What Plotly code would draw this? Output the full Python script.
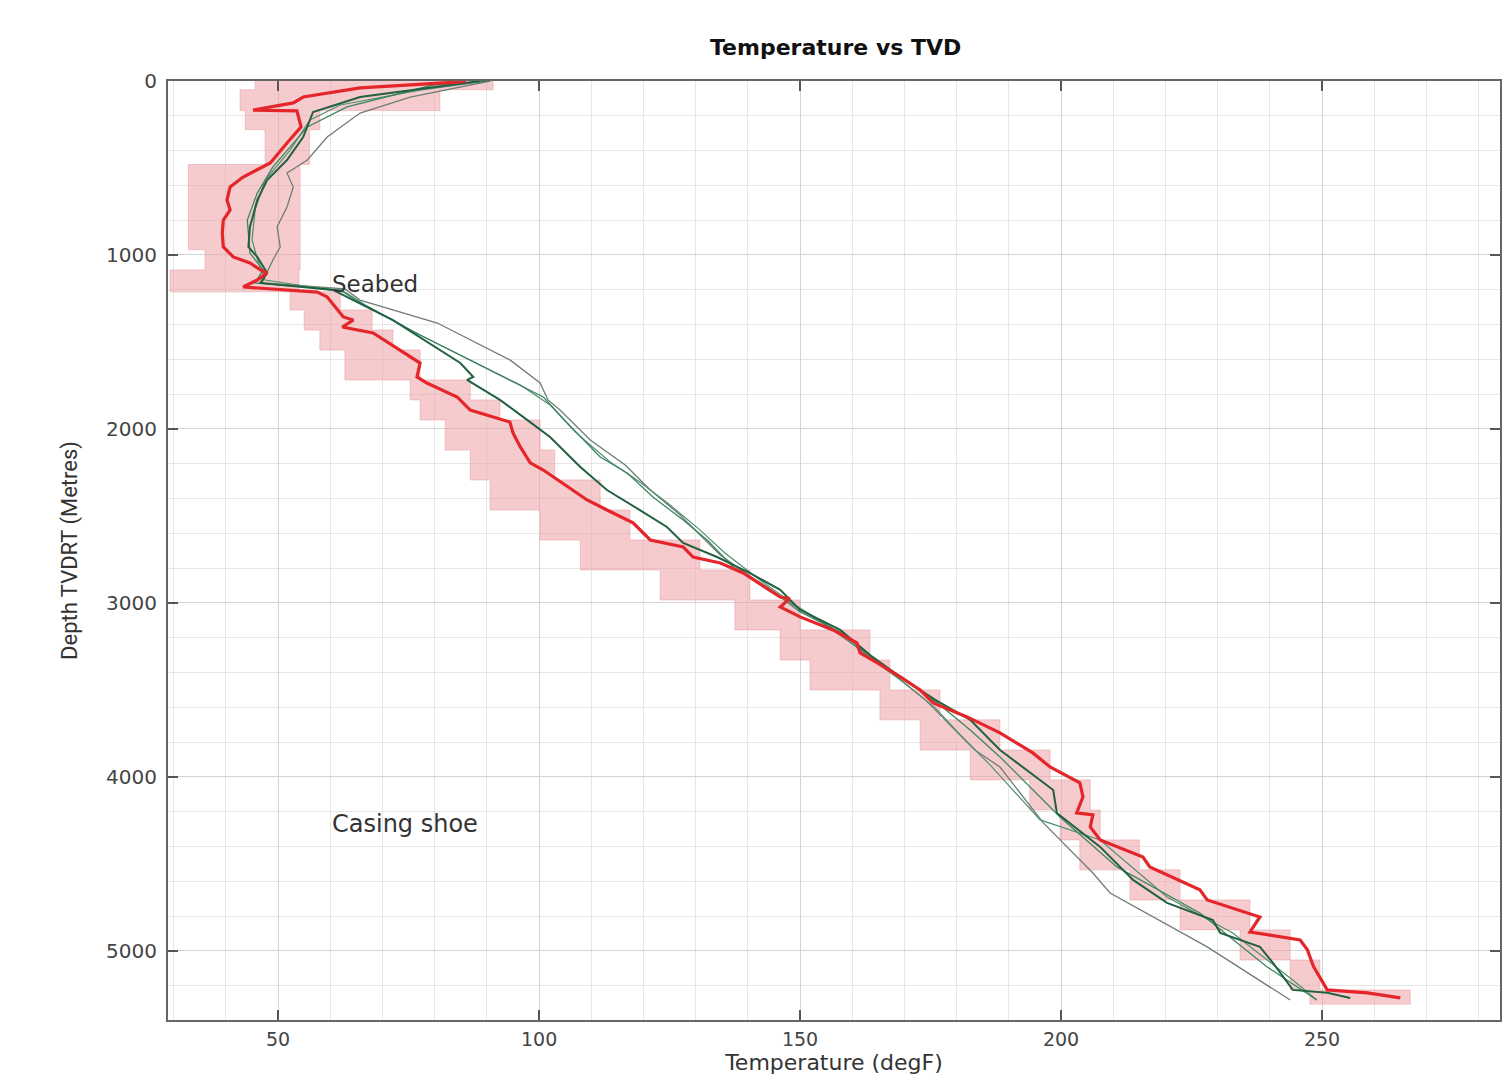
import plotly.graph_objects as go

# ---------------- data ----------------
red_temp = [86, 84.3, 65.7, 54.8, 52.9, 45.2, 53.6, 54.4, 51.7, 48.5, 43.3, 40.8, 40.2, 40.8, 39.5, 39.3, 39.5,
            41.4, 44.6, 46.6, 47.9, 46.0, 43.3, 57.5, 59.4, 62.5, 64.4, 62.3, 68.2, 73.4, 77.2, 76.6, 78.5,
            84.3, 86.8, 94.4, 95.0, 96.4, 98.3, 100.8, 105.4, 109.2, 113.0, 118.0, 121.3, 127.6, 129.5, 134.7,
            139.1, 146.2, 148.0, 146.2, 150.0, 156.3, 160.9, 161.5, 164.8, 169.2, 173.0, 175.5, 182.0, 188.3,
            194.6, 197.9, 203.6, 204.2, 203.0, 206.1, 205.6, 207.5, 215.7, 217.0, 226.6, 228.0, 238.1, 236.2,
            245.8, 247.2, 248.4, 251.0, 258.7, 265.0]
red_depth = [0, 6, 40, 92, 126, 167, 172, 264, 356, 471, 552, 609, 684, 741, 799, 874, 954,
             1011, 1046, 1086, 1103, 1144, 1184, 1213, 1241, 1356, 1374, 1414, 1448, 1546, 1621, 1701, 1736,
             1816, 1891, 1960, 2023, 2103, 2195, 2236, 2333, 2408, 2466, 2540, 2638, 2678, 2736, 2770,
             2828, 2966, 2975, 3023, 3080, 3155, 3230, 3287, 3345, 3425, 3500, 3575, 3655, 3747,
             3862, 3943, 4034, 4115, 4207, 4218, 4287, 4362, 4460, 4517, 4649, 4707, 4805, 4891,
             4937, 4994, 5092, 5224, 5241, 5270]

band_depth = [0, 50, 170, 280, 480, 970, 1086, 1212, 1316, 1431, 1546, 1718, 1833, 1948, 2121, 2293, 2466,
              2638, 2810, 2983, 3155, 3328, 3500, 3672, 3845, 4017, 4190, 4362, 4534, 4707, 4879, 5052,
              5224, 5310]
band_low = [45.6, 42.7, 43.7, 47.5, 32.8, 36.0, 29.3, 52.3, 55.0, 58.0, 62.8, 75.3, 77.2, 82.0, 86.8, 90.6,
            100.2, 107.9, 123.2, 137.5, 146.2, 151.9, 165.3, 173.0, 182.6, 194.0, 199.8, 203.6, 213.2,
            222.8, 234.3, 243.9, 247.7, 247.7]
band_high = [91.2, 81.0, 58.0, 56.0, 54.2, 54.2, 54.0, 61.9, 68.0, 72.0, 77.2, 86.8, 92.5, 100.2, 103.0,
             111.7, 117.4, 130.8, 140.4, 150.0, 163.4, 167.2, 176.8, 188.3, 197.9, 205.6, 207.5, 215.0,
             222.8, 236.2, 243.9, 249.6, 266.9, 266.9]

g1_temp = [88.7, 65.7, 56.7, 54.8, 51.7, 47.9, 46.0, 44.6, 44.3, 46.0, 47.9, 46.6, 60.5, 63.2, 72.0, 84.9,
           87.4, 86.2, 92.5, 97.7, 102.1, 107.9, 113.0, 119.3, 124.5, 127.6, 134.1, 140.4, 146.2, 150.0,
           157.7, 163.4, 169.2, 175.9, 182.6, 188.3, 198.5, 199.2, 207.5, 213.8, 220.3, 229.1, 230.5,
           238.1, 240.6, 244.4, 251.0, 255.4]
g1_depth = [0, 92, 178, 322, 454, 569, 684, 839, 954, 1011, 1103, 1161, 1201, 1241, 1374, 1621,
            1701, 1718, 1833, 1948, 2046, 2218, 2351, 2466, 2563, 2655, 2736, 2828, 2925, 3040,
            3155, 3299, 3425, 3557, 3672, 3845, 4075, 4207, 4402, 4592, 4724, 4822, 4897,
            4977, 5069, 5224, 5241, 5270]

g2_temp = [90.6, 79.7, 63.2, 55.6, 49.0, 46.0, 44.1, 44.6, 47.1, 45.6, 61.9, 64.8, 75.3, 86.8, 94.4,
           100.8, 105.4, 111.7, 116.9, 121.8, 127.6, 132.2, 137.2, 143.7, 150.0, 157.7, 164.4, 170.1,
           176.8, 182.6, 188.3, 199.8, 210.7, 226.6, 239.5, 249.0]
g2_depth = [0, 23, 149, 264, 494, 644, 799, 989, 1086, 1161, 1201, 1259, 1431, 1603, 1718,
            1816, 1966, 2161, 2253, 2391, 2523, 2638, 2793, 2908, 3052, 3167, 3328, 3443,
            3586, 3730, 3885, 4230, 4517, 4782, 5092, 5282]

g3_temp = [90.2, 77.2, 61.9, 56.1, 52.3, 47.5, 45.6, 45.0, 46.2, 47.5, 62.8, 66.7, 77.2, 88.7, 96.4,
           102.1, 106.9, 113.6, 119.3, 125.1, 130.8, 135.6, 142.3, 149.0, 156.7, 163.4, 169.2, 175.9,
           180.7, 186.4, 196.0, 207.5, 220.3, 232.9, 244.4, 249.0]
g3_depth = [0, 52, 138, 224, 397, 569, 741, 914, 1040, 1144, 1213, 1287, 1460, 1632, 1747,
            1862, 2017, 2190, 2305, 2437, 2580, 2713, 2868, 3011, 3155, 3316, 3443, 3603,
            3759, 3931, 4247, 4362, 4690, 4897, 5167, 5282]

g4_temp = [90.6, 75.3, 65.7, 59.4, 55.6, 51.7, 52.9, 51.7, 49.8, 50.4, 49.0, 47.9, 46.9, 62.8, 65.7,
           80.5, 88.1, 94.4, 100.2, 101.7, 104.0, 109.8, 116.5, 121.3, 127.0, 131.8, 134.7, 141.4,
           148.1, 155.7, 162.5, 168.2, 174.0, 178.7, 183.5, 188.3, 196.6, 206.1, 209.4, 228.0, 243.9]
g4_depth = [0, 92, 184, 322, 454, 529, 609, 724, 839, 954, 1029, 1103, 1161, 1195, 1259,
            1391, 1506, 1603, 1736, 1833, 1891, 2063, 2207, 2351, 2494, 2638, 2724, 2868,
            3000, 3144, 3287, 3414, 3557, 3701, 3845, 3943, 4264, 4552, 4667, 4977, 5282]

x_ticks = [50, 100, 150, 200, 250]
y_ticks = [0, 1000, 2000, 3000, 4000, 5000]

# ---------------- figure ----------------
fig = go.Figure()

# uncertainty band (stepped)
fig.add_trace(go.Scatter(x=band_low, y=band_depth, mode="lines",
                         line=dict(width=0.8, color="rgba(230,150,155,0.6)", shape="vh"),
                         hoverinfo="skip", showlegend=False))
fig.add_trace(go.Scatter(x=band_high, y=band_depth, mode="lines",
                         line=dict(width=0.8, color="rgba(230,150,155,0.6)", shape="vh"),
                         fill="tonextx", fillcolor="rgba(238,160,165,0.55)", hoverinfo="skip", showlegend=False))

green_styles = [
    (g4_temp, g4_depth, "#6f7d74", 1.3),
    (g3_temp, g3_depth, "#4e8f72", 1.2),
    (g2_temp, g2_depth, "#3b8660", 1.3),
    (g1_temp, g1_depth, "#21613f", 2.0),
]
for t, d, c, w in green_styles:
    fig.add_trace(go.Scatter(x=t, y=d, mode="lines", line=dict(color=c, width=w), showlegend=False))

fig.add_trace(go.Scatter(x=red_temp, y=red_depth, mode="lines",
                         line=dict(color="#e4262b", width=3.2), showlegend=False))

font_main = "DejaVu Sans, Lato, sans-serif"

fig.add_annotation(x=60.0, y=1165, text="Seabed", showarrow=False, xanchor="left", yanchor="middle",
                   font=dict(family=font_main, size=23, color="#333"))
fig.add_annotation(x=60.0, y=4270, text="Casing shoe", showarrow=False, xanchor="left", yanchor="middle",
                   font=dict(family=font_main, size=24, color="#333"))

fig.update_layout(
    width=1503, height=1076,
    margin=dict(l=168, r=3, t=81, b=56, autoexpand=False),
    paper_bgcolor="white", plot_bgcolor="white",
    title=dict(text="<b>Temperature vs TVD</b>", x=0.556, xanchor="center", y=0.956, yanchor="middle",
               font=dict(family=font_main, size=22, color="#111")),
    showlegend=False,
)

fig.update_xaxes(
    range=[28.9, 284.1], tickvals=x_ticks, ticks="inside", ticklen=10, tickwidth=1.5, tickcolor="#555",
    showline=True, linecolor="#666", linewidth=2, mirror="ticks",
    showgrid=True, gridcolor="#d4d4d4", gridwidth=1,
    minor=dict(dtick=10, showgrid=True, gridcolor="#e6e6e6", gridwidth=1),
    zeroline=False, ticklabelstandoff=1, automargin=False,
    tickfont=dict(family=font_main, size=19, color="#444"),
    title=dict(text="Temperature (degF)", font=dict(family=font_main, size=22, color="#333"), standoff=4),
)
fig.update_yaxes(
    range=[5397, 0], tickvals=y_ticks, ticks="inside", ticklen=10, tickwidth=1.5, tickcolor="#555",
    showline=True, linecolor="#666", linewidth=2, mirror="ticks",
    showgrid=True, gridcolor="#d4d4d4", gridwidth=1,
    minor=dict(dtick=200, showgrid=True, gridcolor="#e6e6e6", gridwidth=1),
    zeroline=False, ticklabelstandoff=5, automargin=False,
    tickfont=dict(family=font_main, size=20, color="#444"),
    title=dict(text="Depth TVDRT (Metres)",
               font=dict(family="Roboto, DejaVu Sans, sans-serif", size=22, color="#333"),
               standoff=22),
)

fig.write_html("out.html", config={"displayModeBar": False},
               post_script="document.body.style.margin='0';")
